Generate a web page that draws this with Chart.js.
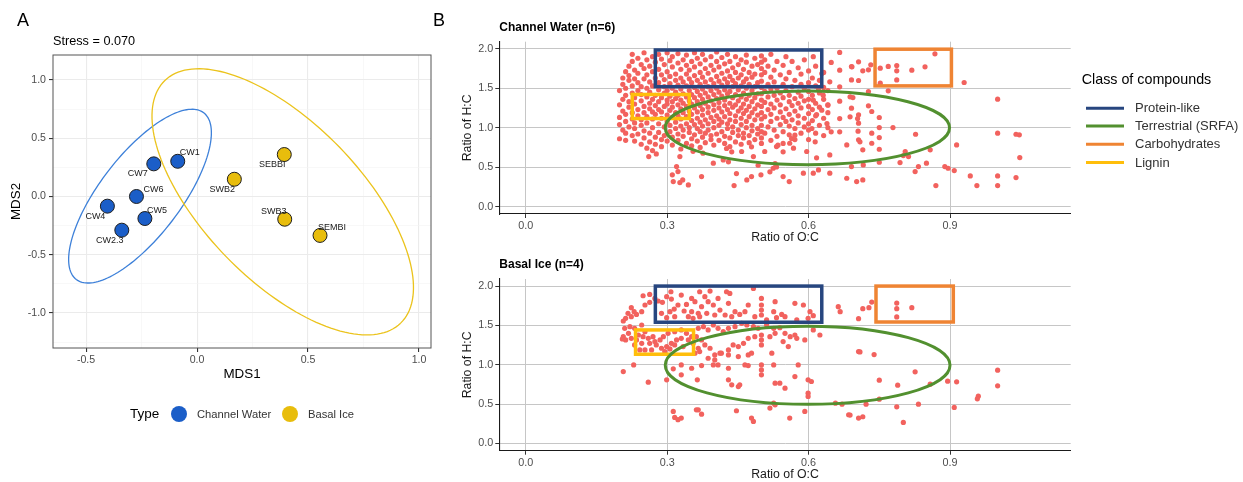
<!DOCTYPE html>
<html lang="en">
<head>
<meta charset="UTF-8">
<title>NMDS and van Krevelen</title>
<script src="https://cdn.jsdelivr.net/npm/chart.js"></script>
<style>
  body { margin: 0; background: #fff; width: 1243px; height: 482px; overflow: hidden; position: relative; }
  canvas { position: absolute; }
</style>
</head>
<body>
<canvas id="nmds" width="440" height="482" style="left:0;top:0"></canvas>
<canvas id="vkTop" width="813" height="250" style="left:430px;top:0"></canvas>
<canvas id="vkBottom" width="813" height="232" style="left:430px;top:250px"></canvas>
<script>
// ---------- panel A : NMDS ----------
const sampleNames = ['CW1', 'CW7', 'CW6', 'CW4', 'CW5', 'CW2.3', 'SWB2', 'SEBBI', 'SWB3', 'SEMBI'];
const sampleType = ['Channel Water', 'Channel Water', 'Channel Water', 'Channel Water', 'Channel Water', 'Channel Water',
                    'Basal Ice', 'Basal Ice', 'Basal Ice', 'Basal Ice'];
const mds1 = [-0.087, -0.195, -0.273, -0.404, -0.235, -0.339, 0.168, 0.393, 0.395, 0.554];
const mds2 = [0.302, 0.280, 0.000, -0.083, -0.189, -0.289, 0.148, 0.360, -0.195, -0.334];
const stressValue = '0.070';
const typeNames = ['Channel Water', 'Basal Ice'];
// 95% ellipses: centre and two conjugate semi-axes, in MDS units
const ellipseCenter = [[-0.257, 0.003], [0.386, -0.046]];
const ellipseAxisU = [[0.287, 0.715], [0.531, -1.041]];
const ellipseAxisV = [[-0.145, 0.211], [0.255, 0.470]];
const mdsTicksX = [-0.5, -0.25, 0, 0.25, 0.5, 0.75, 1.0];
const mdsTicksY = [-1.25, -1, -0.75, -0.5, -0.25, 0, 0.25, 0.5, 0.75, 1.0];

// ---------- panel B : van Krevelen ----------
const classNames = ['Protein-like', 'Terrestrial (SRFA)', 'Carbohydrates', 'Lignin'];
const ocTicks = [0, 0.3, 0.6, 0.9];
const hcTicks = [0, 0.5, 1.0, 1.5, 2.0];
// boxes [O:C min, O:C max, H:C min, H:C max]; SRFA ellipse [cx, cy, rx, ry]
const proteinBoxCW = [0.275, 0.628, 1.52, 1.985];
const carbBoxCW = [0.741, 0.903, 1.53, 1.995];
const ligninBoxCW = [0.226, 0.347, 1.116, 1.421];
const srfaCW = [0.5975, 0.998, 0.3015, 0.4665];
const proteinBoxBI = [0.275, 0.628, 1.54, 2.0];
const carbBoxBI = [0.743, 0.907, 1.543, 2.0];
const ligninBoxBI = [0.233, 0.356, 1.133, 1.442];
const srfaBI = [0.598, 0.993, 0.302, 0.497];

// Channel water formulas, dense part: [O:C, H:C values ...]
const cwColumns = [
  [0.199, 0.86, 1.04, 1.13, 1.29, 1.47],
  [0.206, 0.97, 1.21, 1.36, 1.55, 1.63],
  [0.212, 0.84, 0.93, 1.08, 1.17, 1.41, 1.5, 1.71],
  [0.219, 1.01, 1.26, 1.33, 1.6, 1.66, 1.78],
  [0.226, 0.9, 1.11, 1.19, 1.44, 1.53, 1.84, 1.93],
  [0.231, 0.83, 0.99, 1.06, 1.3, 1.38, 1.62, 1.73],
  [0.238, 0.92, 1.15, 1.23, 1.47, 1.57, 1.69, 1.88],
  [0.245, 0.79, 1.03, 1.1, 1.34, 1.42, 1.52, 1.8],
  [0.251, 0.87, 0.96, 1.19, 1.27, 1.62, 1.75, 1.95],
  [0.257, 0.74, 1.06, 1.14, 1.39, 1.5, 1.67, 1.86],
  [0.263, 0.82, 0.93, 1.24, 1.31, 1.45, 1.58, 1.78],
  [0.269, 0.71, 1.0, 1.11, 1.2, 1.36, 1.53, 1.71, 1.9],
  [0.275, 0.79, 0.88, 1.17, 1.28, 1.41, 1.63, 1.83],
  [0.282, 0.94, 1.05, 1.23, 1.33, 1.48, 1.57, 1.74, 1.93],
  [0.288, 0.76, 0.85, 1.12, 1.2, 1.38, 1.67, 1.87],
  [0.294, 0.9, 1.01, 1.27, 1.44, 1.52, 1.61, 1.8],
  [0.3, 0.83, 1.08, 1.16, 1.3, 1.35, 1.47, 1.71, 1.95],
  [0.306, 0.95, 1.03, 1.22, 1.4, 1.56, 1.65, 1.85],
  [0.311, 0.78, 0.88, 1.13, 1.26, 1.33, 1.5, 1.77, 1.9],
  [0.318, 0.99, 1.07, 1.19, 1.37, 1.45, 1.6, 1.68],
  [0.323, 0.84, 0.92, 1.15, 1.29, 1.41, 1.54, 1.82, 1.94],
  [0.329, 0.73, 1.02, 1.11, 1.24, 1.35, 1.49, 1.63, 1.74],
  [0.334, 0.89, 0.97, 1.19, 1.31, 1.43, 1.58, 1.86],
  [0.341, 0.8, 1.05, 1.14, 1.27, 1.39, 1.53, 1.68, 1.79, 1.92],
  [0.347, 0.94, 1.0, 1.21, 1.34, 1.47, 1.62, 1.73],
  [0.352, 0.77, 0.86, 1.09, 1.17, 1.3, 1.42, 1.57, 1.84],
  [0.358, 0.91, 1.04, 1.25, 1.38, 1.51, 1.66, 1.77, 1.95],
  [0.364, 0.83, 0.99, 1.12, 1.2, 1.33, 1.46, 1.6, 1.88],
  [0.37, 0.75, 0.95, 1.07, 1.28, 1.41, 1.55, 1.7, 1.81],
  [0.375, 0.88, 1.02, 1.16, 1.23, 1.36, 1.49, 1.64, 1.93],
  [0.381, 0.81, 0.93, 1.1, 1.31, 1.44, 1.58, 1.75, 1.86],
  [0.387, 0.97, 1.05, 1.19, 1.26, 1.39, 1.52, 1.69],
  [0.393, 0.85, 0.9, 1.13, 1.34, 1.47, 1.61, 1.79, 1.9],
  [0.399, 0.78, 1.0, 1.08, 1.22, 1.29, 1.42, 1.56, 1.73],
  [0.405, 0.92, 1.15, 1.37, 1.5, 1.65, 1.84, 1.96],
  [0.41, 0.84, 1.03, 1.11, 1.25, 1.32, 1.45, 1.59, 1.77],
  [0.416, 0.95, 1.07, 1.2, 1.4, 1.54, 1.69, 1.89],
  [0.422, 0.8, 0.89, 1.14, 1.28, 1.35, 1.48, 1.62, 1.81],
  [0.428, 0.99, 1.05, 1.23, 1.43, 1.57, 1.72, 1.93],
  [0.433, 0.76, 0.87, 1.1, 1.18, 1.31, 1.46, 1.65, 1.84],
  [0.439, 0.94, 1.01, 1.26, 1.38, 1.52, 1.6, 1.76],
  [0.445, 0.82, 1.08, 1.15, 1.29, 1.42, 1.56, 1.7, 1.9],
  [0.451, 0.9, 0.97, 1.21, 1.34, 1.48, 1.63, 1.8],
  [0.457, 0.79, 1.04, 1.12, 1.25, 1.39, 1.53, 1.67, 1.86],
  [0.462, 0.87, 0.93, 1.18, 1.3, 1.44, 1.58, 1.74],
  [0.468, 1.0, 1.08, 1.22, 1.36, 1.5, 1.62, 1.83, 1.92],
  [0.474, 0.81, 0.9, 1.14, 1.27, 1.41, 1.55, 1.7],
  [0.48, 0.96, 1.03, 1.19, 1.33, 1.47, 1.64, 1.78],
  [0.486, 0.85, 1.1, 1.24, 1.38, 1.52, 1.68, 1.88],
  [0.492, 0.92, 0.99, 1.16, 1.29, 1.43, 1.57, 1.8],
  [0.5, 0.8, 0.87, 0.95, 1.03, 1.11, 1.19, 1.27, 1.35, 1.43, 1.51, 1.59, 1.67, 1.75, 1.83, 1.91],
  [0.507, 0.93, 1.14, 1.32, 1.46, 1.7, 1.86],
  [0.514, 1.01, 1.23, 1.39, 1.55, 1.78],
  [0.52, 0.84, 1.08, 1.17, 1.3, 1.49, 1.64, 1.93],
  [0.527, 0.97, 1.25, 1.41, 1.58, 1.73],
  [0.533, 0.89, 1.12, 1.35, 1.5, 1.84],
  [0.54, 1.04, 1.2, 1.29, 1.44, 1.67],
  [0.546, 0.8, 0.95, 1.13, 1.38, 1.55, 1.79],
  [0.552, 1.08, 1.24, 1.47, 1.62, 1.9],
  [0.559, 0.91, 1.02, 1.17, 1.33, 1.41, 1.7],
  [0.565, 1.1, 1.28, 1.52, 1.84],
  [0.571, 0.85, 0.99, 1.21, 1.37, 1.6],
  [0.578, 1.06, 1.15, 1.31, 1.45, 1.76],
  [0.584, 0.93, 1.25, 1.4, 1.55, 1.68],
  [0.591, 1.01, 1.12, 1.34, 1.5, 1.86],
  [0.6, 0.85, 0.97, 1.05, 1.18, 1.27, 1.36, 1.46, 1.57, 1.72],
  [0.608, 1.09, 1.23, 1.41, 1.63],
  [0.615, 0.93, 1.15, 1.31, 1.53, 1.78],
  [0.623, 1.03, 1.26, 1.44, 1.6],
  [0.632, 0.9, 1.12, 1.36, 1.51, 1.7],
  [0.641, 1.0, 1.19, 1.29, 1.47]
];
// Channel water formulas, sparse part [O:C, H:C]
const cwScatter = [
  [0.261, 0.634], [0.277, 0.668], [0.311, 0.402], [0.323, 0.444], [0.313, 0.317], [0.327, 0.304], [0.345, 0.275],
  [0.333, 0.338], [0.320, 0.507], [0.373, 0.381], [0.398, 0.550], [0.419, 0.592], [0.442, 0.266], [0.469, 0.338],
  [0.479, 0.381], [0.499, 0.402], [0.525, 0.486], [0.546, 0.381], [0.559, 0.317], [0.589, 0.423], [0.610, 0.423],
  [0.621, 0.465], [0.645, 0.423], [0.681, 0.359], [0.702, 0.317], [0.327, 0.634], [0.355, 0.700], [0.376, 0.677],
  [0.458, 0.698], [0.483, 0.634], [0.507, 0.698], [0.532, 0.761], [0.560, 0.803], [0.568, 0.740], [0.596, 0.698],
  [0.645, 0.655], [0.681, 0.782], [0.706, 0.846], [0.447, 0.419], [0.518, 0.440], [0.532, 0.503], [0.529, 0.545],
  [0.493, 0.524], [0.430, 0.567], [0.426, 0.736], [0.437, 0.694], [0.479, 0.757], [0.535, 0.778], [0.546, 0.694],
  [0.564, 0.863], [0.571, 0.905],
  [0.610, 1.900], [0.648, 1.827], [0.666, 1.954], [0.628, 1.687], [0.645, 1.582], [0.666, 1.729], [0.692, 1.772],
  [0.706, 1.835], [0.666, 1.518], [0.688, 1.391], [0.666, 1.336], [0.641, 1.286], [0.628, 1.222], [0.617, 1.167],
  [0.639, 1.053], [0.666, 1.116], [0.688, 1.138], [0.704, 1.116], [0.648, 0.947], [0.666, 0.947], [0.705, 0.956],
  [0.709, 0.821], [0.617, 0.618], [0.614, 0.821], [0.631, 1.412], [0.621, 1.497], [0.610, 1.349], [0.607, 0.990],
  [0.691, 1.775], [0.715, 1.721], [0.727, 1.733], [0.732, 1.797], [0.752, 1.754], [0.769, 1.776], [0.787, 1.788],
  [0.787, 1.721], [0.819, 1.729], [0.847, 1.771], [0.868, 1.936], [0.752, 1.564], [0.787, 1.606], [0.706, 1.598],
  [0.691, 1.606], [0.727, 1.458], [0.769, 1.467], [0.930, 1.573], [0.694, 1.382], [0.691, 1.247], [0.727, 1.277],
  [0.734, 1.205], [0.750, 1.129], [0.706, 1.163], [0.706, 1.057], [0.750, 1.002], [0.779, 1.002], [0.734, 0.930],
  [0.750, 0.875], [0.734, 0.803], [0.715, 0.719], [0.750, 0.727], [0.827, 0.917], [0.858, 0.719], [0.805, 0.698],
  [0.812, 0.634], [0.801, 0.647], [0.794, 0.558], [0.750, 0.562], [0.716, 0.528], [0.691, 0.507], [0.826, 0.444],
  [0.833, 0.507], [0.850, 0.550], [0.889, 0.507], [0.896, 0.486], [0.909, 0.457], [0.914, 0.782], [0.715, 0.338],
  [0.870, 0.266], [0.943, 0.389], [0.957, 0.266], [1.001, 0.389], [1.001, 0.266], [1.040, 0.368], [1.001, 0.930],
  [1.001, 1.361], [1.040, 0.917], [1.047, 0.909], [1.048, 0.621]
];
// Basal ice formulas [O:C, H:C]
const biScatter = [
  [0.249, 1.877], [0.263, 1.894], [0.281, 1.810], [0.253, 1.759], [0.224, 1.725], [0.230, 1.674], [0.217, 1.653],
  [0.212, 1.590], [0.207, 1.556], [0.224, 1.611], [0.235, 1.640], [0.246, 1.674], [0.263, 1.793], [0.274, 1.843],
  [0.290, 1.793], [0.299, 1.865], [0.308, 1.928], [0.309, 1.835], [0.330, 1.886], [0.323, 1.759], [0.315, 1.708],
  [0.306, 1.674], [0.288, 1.653], [0.299, 1.598], [0.316, 1.611], [0.336, 1.683], [0.345, 1.611], [0.352, 1.674],
  [0.359, 1.801], [0.352, 1.843], [0.341, 1.767], [0.355, 1.590], [0.366, 1.653],
  [0.210, 1.463], [0.221, 1.484], [0.231, 1.463], [0.246, 1.505], [0.253, 1.420], [0.239, 1.378], [0.218, 1.399],
  [0.207, 1.357], [0.212, 1.315], [0.224, 1.336], [0.249, 1.357], [0.260, 1.336], [0.270, 1.357], [0.263, 1.272],
  [0.274, 1.294], [0.285, 1.315], [0.292, 1.357], [0.302, 1.399], [0.316, 1.420], [0.330, 1.442], [0.341, 1.399],
  [0.352, 1.357], [0.345, 1.315], [0.330, 1.336], [0.320, 1.315], [0.309, 1.272], [0.299, 1.230], [0.288, 1.209],
  [0.277, 1.251], [0.246, 1.272], [0.235, 1.315], [0.267, 1.188], [0.295, 1.167], [0.306, 1.201], [0.316, 1.251],
  [0.334, 1.230], [0.355, 1.272], [0.366, 1.209], [0.359, 1.146], [0.253, 1.188], [0.242, 1.188], [0.231, 1.251],
  [0.205, 1.327],
  [0.229, 0.997], [0.207, 0.913], [0.260, 0.778], [0.299, 0.807], [0.313, 0.947], [0.330, 0.997], [0.330, 0.871],
  [0.352, 0.955], [0.364, 0.807], [0.313, 0.405], [0.316, 0.329], [0.323, 0.300], [0.330, 0.321], [0.362, 0.426],
  [0.369, 1.928], [0.380, 1.865], [0.391, 1.937], [0.387, 1.801], [0.373, 1.738], [0.398, 1.759], [0.408, 1.843],
  [0.412, 1.695], [0.426, 1.928], [0.433, 1.907], [0.430, 1.780], [0.444, 1.674], [0.454, 1.640], [0.437, 1.611],
  [0.423, 1.632], [0.401, 1.632], [0.384, 1.653], [0.369, 1.611], [0.465, 1.674], [0.472, 1.759], [0.483, 1.970],
  [0.486, 1.611], [0.500, 1.759], [0.500, 1.695], [0.500, 1.632], [0.500, 1.843], [0.511, 1.569], [0.529, 1.801],
  [0.526, 1.674], [0.532, 1.598], [0.543, 1.640], [0.550, 1.611], [0.571, 1.780], [0.589, 1.759], [0.603, 1.674],
  [0.575, 1.569], [0.599, 1.590], [0.610, 1.624], [0.663, 1.738], [0.667, 1.674], [0.706, 1.167],
  [0.366, 1.463], [0.377, 1.484], [0.387, 1.442], [0.398, 1.505], [0.408, 1.463], [0.419, 1.420], [0.430, 1.463],
  [0.444, 1.484], [0.458, 1.526], [0.469, 1.505], [0.483, 1.484], [0.493, 1.463], [0.511, 1.505], [0.526, 1.463],
  [0.539, 1.471], [0.550, 1.399], [0.571, 1.378], [0.575, 1.336], [0.561, 1.357], [0.546, 1.294], [0.557, 1.230],
  [0.529, 1.399], [0.518, 1.357], [0.500, 1.378], [0.500, 1.315], [0.500, 1.251], [0.486, 1.357], [0.472, 1.336],
  [0.462, 1.272], [0.451, 1.230], [0.440, 1.251], [0.430, 1.188], [0.415, 1.146], [0.401, 1.124], [0.391, 1.209],
  [0.380, 1.251], [0.373, 1.315], [0.362, 1.357], [0.369, 1.167], [0.387, 1.082], [0.401, 1.061], [0.412, 1.146],
  [0.430, 1.124], [0.451, 1.103], [0.472, 1.124], [0.479, 1.146], [0.522, 1.146], [0.592, 1.315], [0.610, 1.442],
  [0.624, 1.378],
  [0.398, 0.997], [0.408, 0.997], [0.373, 0.989], [0.430, 0.955], [0.465, 0.997], [0.472, 0.989], [0.500, 0.997],
  [0.500, 0.934], [0.500, 0.871], [0.526, 0.997], [0.578, 0.997], [0.571, 0.849], [0.430, 0.807], [0.437, 0.744],
  [0.451, 0.722], [0.454, 0.744], [0.529, 0.765], [0.539, 0.765], [0.550, 0.701], [0.599, 0.807], [0.606, 0.786],
  [0.599, 0.638], [0.599, 0.596], [0.526, 0.511], [0.529, 0.490], [0.518, 0.448], [0.657, 0.511], [0.671, 0.498],
  [0.366, 0.426], [0.373, 0.371], [0.447, 0.414], [0.479, 0.321], [0.483, 0.279], [0.560, 0.321], [0.592, 0.405],
  [0.685, 0.363], [0.706, 0.321],
  [0.734, 1.797], [0.728, 1.725], [0.715, 1.712], [0.706, 1.585], [0.787, 1.784], [0.787, 1.712], [0.787, 1.607],
  [0.819, 1.725], [0.709, 1.162], [0.739, 1.129], [0.826, 0.909], [0.750, 0.803], [0.789, 0.739], [0.858, 0.752],
  [0.895, 0.790], [0.914, 0.782], [1.001, 0.930], [1.001, 0.731], [0.960, 0.600], [0.958, 0.566], [0.750, 0.562],
  [0.722, 0.498], [0.787, 0.464], [0.833, 0.498], [0.909, 0.456], [0.715, 0.338], [0.801, 0.266], [0.688, 0.359]
];

// ---------- styling ----------
Chart.defaults.font.family = '"Liberation Sans", Arial, Helvetica, sans-serif';
const typeColors = ['#1b5ec8', '#e8bd0c'];
const ellipseColors = ['#3d80d9', '#ebc31c'];
const classColors = ['#27467f', '#52902f', '#ef8433', '#ffbe0b'];
const pointRed = '#f2625e';
// label nudges in px for the sample names (same order as sampleNames)
const labelNudge = [[12, -9], [-16, 10], [17, -7], [-12, 10], [12, -8], [-12, 10], [-12, 10], [-12, 10], [-11, -8], [12, -8]];

const isMajor = v => Math.abs(v * 2 - Math.round(v * 2)) < 1e-6;

const nmdsExtras = {
  id: 'nmdsExtras',
  beforeDatasetsDraw(chart) {
    const {ctx, scales: {x, y}} = chart;
    ctx.save();
    ellipseCenter.forEach((c, k) => {
      ctx.beginPath();
      for (let i = 0; i <= 160; i++) {
        const t = i / 160 * Math.PI * 2;
        const px = x.getPixelForValue(c[0] + ellipseAxisU[k][0] * Math.cos(t) + ellipseAxisV[k][0] * Math.sin(t));
        const py = y.getPixelForValue(c[1] + ellipseAxisU[k][1] * Math.cos(t) + ellipseAxisV[k][1] * Math.sin(t));
        if (i === 0) ctx.moveTo(px, py); else ctx.lineTo(px, py);
      }
      ctx.strokeStyle = ellipseColors[k];
      ctx.lineWidth = 1.3;
      ctx.stroke();
    });
    ctx.restore();
  },
  afterDatasetsDraw(chart) {
    const ctx = chart.ctx;
    ctx.save();
    ctx.font = '9px "Liberation Sans", Arial, sans-serif';
    ctx.fillStyle = '#1a1a1a';
    ctx.textAlign = 'center';
    ctx.textBaseline = 'middle';
    chart.data.datasets.forEach((ds, d) => {
      chart.getDatasetMeta(d).data.forEach((el, j) => {
        const i = ds.data[j].idx;
        ctx.fillText(sampleNames[i], el.x + labelNudge[i][0], el.y + labelNudge[i][1]);
      });
    });
    ctx.restore();
  },
  afterDraw(chart) {
    const {ctx, chartArea: a} = chart;
    ctx.save();
    ctx.strokeStyle = '#555';
    ctx.lineWidth = 1;
    ctx.strokeRect(a.left, a.top, a.right - a.left, a.bottom - a.top);
    ctx.fillStyle = '#000';
    ctx.textBaseline = 'middle';
    ctx.textAlign = 'left';
    ctx.font = '18px "Liberation Sans", Arial, sans-serif';
    ctx.fillText('A', 17, 21);
    ctx.font = '12.7px "Liberation Sans", Arial, sans-serif';
    ctx.fillText('Stress = ' + stressValue, a.left, 41);
    // legend
    ctx.font = '13.5px "Liberation Sans", Arial, sans-serif';
    ctx.fillText('Type', 130, 414);
    ctx.font = '11.2px "Liberation Sans", Arial, sans-serif';
    const lx = [[179, 197], [290, 308]];
    typeNames.forEach((t, k) => {
      ctx.beginPath();
      ctx.arc(lx[k][0], 414, 8, 0, Math.PI * 2);
      ctx.fillStyle = typeColors[k];
      ctx.fill();
      ctx.fillStyle = '#333';
      ctx.fillText(t, lx[k][1], 414.5);
    });
    ctx.restore();
  }
};

new Chart(document.getElementById('nmds'), {
  type: 'scatter',
  data: {
    datasets: typeNames.map((t, k) => ({
      label: t,
      data: sampleNames.map((n, i) => ({x: mds1[i], y: mds2[i], idx: i})).filter(p => sampleType[p.idx] === t),
      backgroundColor: typeColors[k],
      borderColor: '#1e1e1e',
      borderWidth: 1,
      pointRadius: 7
    }))
  },
  options: {
    responsive: false,
    animation: false,
    events: [],
    layout: {padding: {left: 0, top: 55, right: 9, bottom: 100}},
    plugins: {legend: {display: false}, tooltip: {enabled: false}},
    scales: {
      x: {
        type: 'linear', min: -0.649, max: 1.054,
        afterBuildTicks: s => { s.ticks = mdsTicksX.map(v => ({value: v})); },
        afterFit: s => { s.height = 34; },
        ticks: {callback: v => isMajor(v) ? v.toFixed(1) : '', autoSkip: false, maxRotation: 0, padding: 2,
                color: '#4d4d4d', font: {size: 10.6}},
        grid: {color: c => isMajor(c.tick.value) ? '#ebebeb' : '#f4f4f4',
               lineWidth: c => isMajor(c.tick.value) ? 1.1 : 0.6,
               tickColor: c => isMajor(c.tick.value) ? '#333' : 'rgba(0,0,0,0)', tickLength: 4},
        border: {display: false},
        title: {display: true, text: 'MDS1', color: '#000', font: {size: 13.4}, padding: 0}
      },
      y: {
        type: 'linear', min: -1.30, max: 1.214,
        afterBuildTicks: s => { s.ticks = mdsTicksY.map(v => ({value: v})); },
        afterFit: s => { s.width = 53; },
        ticks: {callback: v => isMajor(v) ? v.toFixed(1) : '', autoSkip: false, padding: 3,
                color: '#4d4d4d', font: {size: 10.6}},
        grid: {color: c => isMajor(c.tick.value) ? '#ebebeb' : '#f4f4f4',
               lineWidth: c => isMajor(c.tick.value) ? 1.1 : 0.6,
               tickColor: c => isMajor(c.tick.value) ? '#333' : 'rgba(0,0,0,0)', tickLength: 4},
        border: {display: false},
        title: {display: true, text: 'MDS2', color: '#000', font: {size: 13.4}, padding: {top: 8.7, bottom: 0}}
      }
    }
  },
  plugins: [nmdsExtras]
});

// ---------- van Krevelen panels ----------
function makeVK(id, title, titleY, points, boxes, srfa, pad, withLegend) {
  const extras = {
    id: 'vkExtras',
    afterDatasetsDraw(chart) {
      const {ctx, scales: {x, y}} = chart;
      ctx.save();
      ctx.lineJoin = 'miter';
      boxes.forEach((b, k) => {
        const x0 = x.getPixelForValue(b[0]), x1 = x.getPixelForValue(b[1]);
        const y0 = y.getPixelForValue(b[2]), y1 = y.getPixelForValue(b[3]);
        ctx.strokeStyle = classColors[k === 0 ? 0 : k + 1];
        ctx.lineWidth = 3.5;
        ctx.strokeRect(x0, y1, x1 - x0, y0 - y1);
      });
      const cx = x.getPixelForValue(srfa[0]), cy = y.getPixelForValue(srfa[1]);
      const rx = x.getPixelForValue(srfa[0] + srfa[2]) - cx;
      const ry = cy - y.getPixelForValue(srfa[1] + srfa[3]);
      ctx.beginPath();
      ctx.ellipse(cx, cy, rx, ry, 0, 0, Math.PI * 2);
      ctx.strokeStyle = classColors[1];
      ctx.lineWidth = 3;
      ctx.stroke();
      ctx.restore();
    },
    afterDraw(chart) {
      const {ctx, chartArea: a} = chart;
      ctx.save();
      ctx.textBaseline = 'middle';
      ctx.textAlign = 'left';
      ctx.fillStyle = '#000';
      ctx.font = 'bold 12px "Liberation Sans", Arial, sans-serif';
      ctx.fillText(title, a.left, titleY);
      if (withLegend) {
        ctx.font = '18px "Liberation Sans", Arial, sans-serif';
        ctx.fillText('B', 3, 21);
        ctx.font = '14.3px "Liberation Sans", Arial, sans-serif';
        ctx.fillText('Class of compounds', 651.7, 80);
        ctx.font = '13px "Liberation Sans", Arial, sans-serif';
        const ly = [108.3, 126, 144.3, 162.6];
        classNames.forEach((n, k) => {
          ctx.strokeStyle = classColors[k];
          ctx.lineWidth = 3;
          ctx.beginPath();
          ctx.moveTo(656, ly[k]);
          ctx.lineTo(694, ly[k]);
          ctx.stroke();
          ctx.fillStyle = '#333';
          ctx.fillText(n, 705, ly[k] + 0.5);
        });
      }
      ctx.restore();
    }
  };
  const axisCommon = {
    type: 'linear',
    grid: {color: '#c6c6c6', lineWidth: 1, tickLength: 4, tickColor: '#333'},
    border: {display: true, color: '#1a1a1a', width: 1.1}
  };
  return new Chart(document.getElementById(id), {
    type: 'scatter',
    data: {datasets: [{data: points, backgroundColor: pointRed, borderWidth: 0, pointRadius: 2.6}]},
    options: {
      responsive: false,
      animation: false,
      events: [],
      layout: {padding: pad},
      plugins: {legend: {display: false}, tooltip: {enabled: false}},
      scales: {
        x: Object.assign({}, axisCommon, {
          min: -0.056, max: 1.156,
          afterBuildTicks: s => { s.ticks = ocTicks.map(v => ({value: v})); },
          afterFit: s => { s.height = 31.3; },
          ticks: {callback: v => v.toFixed(1), autoSkip: false, maxRotation: 0, padding: 2,
                  color: '#4d4d4d', font: {size: 10.8}},
          title: {display: true, text: 'Ratio of O:C', color: '#1a1a1a', font: {size: 12.3}, padding: 0}
        }),
        y: Object.assign({}, axisCommon, {
          min: -0.094, max: 2.09,
          afterBuildTicks: s => { s.ticks = hcTicks.map(v => ({value: v})); },
          afterFit: s => { s.width = 69.3; },
          ticks: {callback: v => v.toFixed(1), autoSkip: false, padding: 2, color: '#4d4d4d', font: {size: 10.8}},
          title: {display: true, text: 'Ratio of H:C', color: '#1a1a1a', font: {size: 12.3}, padding: {top: 30.6, bottom: 0}}
        })
      }
    },
    plugins: [extras]
  });
}

const toXY = p => ({x: p[0], y: p[1]});
const cwPoints = cwColumns.flatMap(c => c.slice(1).map(h => ({x: c[0], y: h}))).concat(cwScatter.map(toXY));
const biPoints = biScatter.map(toXY);

makeVK('vkTop', 'Channel Water (n=6)', 28, cwPoints, [proteinBoxCW, carbBoxCW, ligninBoxCW], srfaCW,
       {left: 0, top: 41.7, right: 172.3, bottom: 4.7}, true);
makeVK('vkBottom', 'Basal Ice (n=4)', 15, biPoints, [proteinBoxBI, carbBoxBI, ligninBoxBI], srfaBI,
       {left: 0, top: 29, right: 172.3, bottom: 0}, false);
</script>
</body>
</html>
